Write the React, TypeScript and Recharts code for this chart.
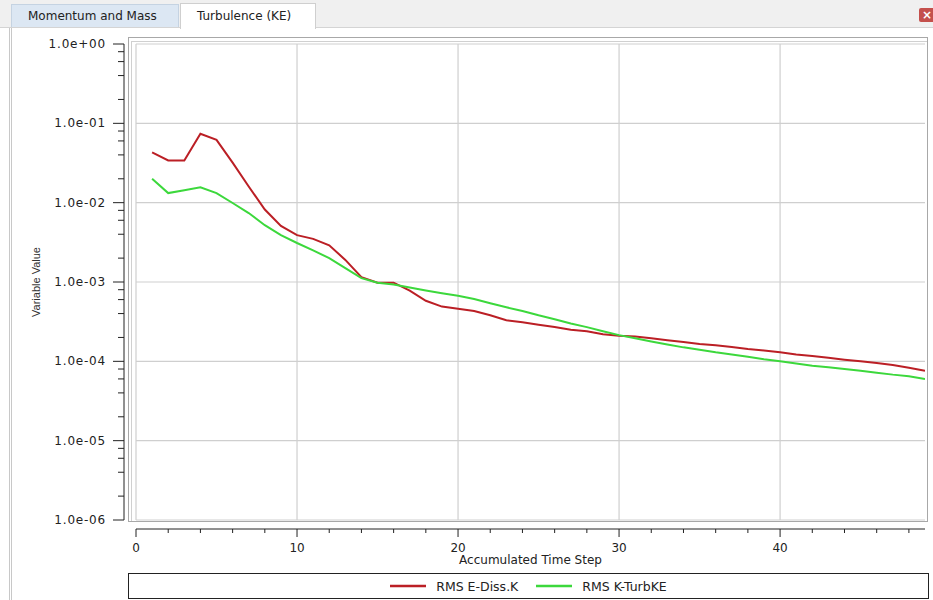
import { Legend, Line, LineChart, ReferenceLine, XAxis, YAxis } from "recharts";

// accumulated time steps
const steps = [
    1, 2, 3, 4, 5, 6, 7, 8, 9, 10, 11, 12, 13, 14, 15, 16, 17, 18, 19, 20, 21, 22, 23, 24, 25,
    26, 27, 28, 29, 30, 31, 32, 33, 34, 35, 36, 37, 38, 39, 40, 41, 42, 43, 44, 45, 46, 47, 48, 49,
];

// RMS E-Diss.K
const eDissK = [
    0.043, 0.034, 0.034, 0.074, 0.062, 0.032, 0.016, 0.0082, 0.0051, 0.0039,
    0.0035, 0.0029, 0.0019, 0.00115, 0.00098, 0.00098, 0.00078, 0.00058, 0.00049, 0.00046,
    0.00043, 0.00038, 0.00033, 0.00031, 0.00029, 0.00027, 0.00025, 0.00024, 0.00022, 0.00021,
    0.000205, 0.000195, 0.000185, 0.000175, 0.000165, 0.00016, 0.000152, 0.000143, 0.000137, 0.00013,
    0.000122, 0.000117, 0.000111, 0.000105, 0.0001, 0.000095, 0.00009, 0.000083, 0.000076,
];

// RMS K-TurbKE
const kTurbKE = [
    0.02, 0.0132, 0.0143, 0.0156, 0.0132, 0.0099, 0.0074, 0.0052, 0.0039, 0.0031,
    0.0025, 0.002, 0.0015, 0.00112, 0.00098, 0.00093, 0.00085, 0.00078, 0.00072, 0.00067,
    0.00061, 0.00054, 0.00048, 0.00043, 0.00038, 0.00034, 0.0003, 0.00027, 0.00024, 0.000214,
    0.000195, 0.000178, 0.000163, 0.00015, 0.00014, 0.00013, 0.000122, 0.000114, 0.000106, 0.0001,
    0.000094, 0.000088, 0.000084, 0.00008, 0.000076, 0.000072, 0.000068, 0.000065, 0.00006,
];

const xTicks = [0, 2, 4, 6, 8, 10, 12, 14, 16, 18, 20, 22, 24, 26, 28, 30, 32, 34, 36, 38, 40, 42, 44, 46, 48];
const xMajor = [0, 10, 20, 30, 40];
const yMajor = [1e-6, 1e-5, 1e-4, 1e-3, 1e-2, 1e-1, 1];
const yMinorMult = [2, 4, 6, 8];

const yTicks = yMajor.flatMap((d, i) =>
    i === yMajor.length - 1 ? [d] : [d, ...yMinorMult.map((m) => m * d)]
);

const data = steps.map((s, i) => ({ step: s, ediss: eDissK[i], turb: kTurbKE[i] }));

const FONT = "'DejaVu Sans', Verdana, sans-serif";

const fmtExp = (v: number) => {
    const e = Math.round(Math.log10(v));
    return `1.0e${e < 0 ? "-" : "+"}${String(Math.abs(e)).padStart(2, "0")}`;
};

const YTick = ({ x, y, payload }: any) => {
    const v = payload.value as number;
    const lg = Math.log10(v);
    const major = Math.abs(lg - Math.round(lg)) < 1e-6;
    const ax = x - 12;
    return (
        <g>
            <line x1={ax} x2={ax - (major ? 11 : 6)} y1={y} y2={y} stroke="#222" />
            {major && (
                <text
                    x={ax - 18}
                    y={y}
                    textAnchor="end"
                    dominantBaseline="central"
                    fontFamily={FONT}
                    fontSize={12}
                    letterSpacing={0.8}
                    fill="#222">
                    {fmtExp(v)}
                </text>
            )}
        </g>
    );
};

const XTick = ({ x, y, payload }: any) => {
    const v = payload.value as number;
    const major = v % 10 === 0;
    const ay = y + 9;
    return (
        <g>
            <line x1={x} x2={x} y1={ay} y2={ay + (major ? 8 : 4)} stroke="#222" />
            {major && (
                <text
                    x={x}
                    y={ay + 19}
                    textAnchor="middle"
                    dominantBaseline="central"
                    fontFamily={FONT}
                    fontSize={12}
                    fill="#222">
                    {v}
                </text>
            )}
        </g>
    );
};

const renderLegend = (props: any) => (
    <div
        style={{
            display: "flex",
            justifyContent: "center",
            alignItems: "center",
            height: "100%",
            gap: 18,
            fontFamily: FONT,
            fontSize: 12.5,
            color: "#222",
        }}>
        {(props.payload || []).map((item: any) => (
            <span key={item.value} style={{ display: "flex", alignItems: "center", gap: 10 }}>
                <svg width={36} height={4}>
                    <line x1={0} x2={36} y1={2} y2={2} stroke={item.color} strokeWidth={2.5} />
                </svg>
                <span>{item.value}</span>
            </span>
        ))}
    </div>
);

export default function App() {
    return (
        <div
            style={{
                position: "absolute",
                left: 0,
                top: 0,
                width: 933,
                height: 600,
                background: "#fff",
                overflow: "hidden",
                fontFamily: FONT,
            }}>
            {/* tab strip */}
            <div
                style={{
                    position: "absolute",
                    left: 0,
                    top: 0,
                    width: 933,
                    height: 27,
                    background: "#f0f0f0",
                    borderBottom: "1px solid #d4d4d4",
                }}
            />
            <div
                style={{
                    position: "absolute",
                    left: 11,
                    top: 4,
                    width: 168,
                    height: 23,
                    background: "#dce7f3",
                    border: "1px solid #c5d3e2",
                    borderBottom: "none",
                    boxSizing: "border-box",
                    fontSize: 12,
                    color: "#222",
                    lineHeight: "23px",
                    paddingLeft: 16,
                }}>
                Momentum and Mass
            </div>
            <div
                style={{
                    position: "absolute",
                    left: 180,
                    top: 3,
                    width: 136,
                    height: 26,
                    background: "#fff",
                    border: "1px solid #cfcfcf",
                    borderBottom: "none",
                    boxSizing: "border-box",
                    fontSize: 12,
                    color: "#222",
                    lineHeight: "24px",
                    paddingLeft: 16,
                }}>
                Turbulence (KE)
            </div>
            <div
                style={{
                    position: "absolute",
                    left: 919,
                    top: 8,
                    width: 16,
                    height: 14,
                    background: "#c4504c",
                    borderRadius: 2,
                    color: "#fff",
                    fontSize: 12,
                    fontWeight: "bold",
                    lineHeight: "14px",
                    paddingLeft: 3,
                    boxSizing: "border-box",
                }}>
                ×
            </div>
            {/* window left edge */}
            <div
                style={{
                    position: "absolute",
                    left: 9,
                    top: 28,
                    width: 1,
                    height: 572,
                    borderLeft: "1px solid #c8c8c8",
                    borderRight: "1px solid #c8c8c8",
                }}
            />
            {/* plot frame */}
            <div
                style={{
                    position: "absolute",
                    left: 128,
                    top: 37,
                    width: 800,
                    height: 485,
                    border: "1px solid #a8a8a8",
                    boxSizing: "border-box",
                }}>
                <div
                    style={{
                        position: "absolute",
                        left: 2,
                        top: 3,
                        right: 0,
                        bottom: 0,
                        borderLeft: "1px solid #d0d0d0",
                        borderTop: "1px solid #d0d0d0",
                    }}
                />
            </div>
            <div style={{ position: "absolute", left: 0, top: 0 }}>
                <LineChart
                    width={933}
                    height={600}
                    data={data}
                    margin={{ top: 44, right: 8, left: 36, bottom: 50 }}>
                    {xMajor.map((v) => (
                        <ReferenceLine key={`x${v}`} x={v} stroke="#cfcfcf" strokeWidth={1.2} />
                    ))}
                    {yMajor.map((v) => (
                        <ReferenceLine key={`y${v}`} y={v} stroke="#cfcfcf" strokeWidth={1.2} />
                    ))}
                    <XAxis
                        dataKey="step"
                        type="number"
                        domain={[0, 49]}
                        ticks={xTicks}
                        interval={0}
                        height={30}
                        tickSize={0}
                        tickMargin={0}
                        tickLine={false}
                        tick={<XTick />}
                        axisLine={{ stroke: "#222", transform: "translate(0, 9)" }}
                        allowDataOverflow
                        label={{
                            value: "Accumulated Time Step",
                            position: "bottom",
                            offset: 5,
                            style: { fontFamily: FONT, fontSize: 12, fill: "#222" },
                        }}
                    />
                    <YAxis
                        scale="log"
                        type="number"
                        domain={[1e-6, 1]}
                        ticks={yTicks}
                        interval={0}
                        width={100}
                        tickSize={0}
                        tickMargin={0}
                        tickLine={false}
                        tick={<YTick />}
                        axisLine={{ stroke: "#222", transform: "translate(-12, 0)" }}
                        allowDataOverflow
                        label={{
                            value: "Variable Value",
                            angle: -90,
                            position: "insideLeft",
                            offset: 0,
                            style: {
                                fontFamily: "'Liberation Sans', Arial, sans-serif",
                                fontSize: 11,
                                fill: "#333",
                                textAnchor: "middle",
                            },
                        }}
                    />
                    <Line
                        dataKey="ediss"
                        name="RMS E-Diss.K"
                        stroke="#bb1f25"
                        strokeWidth={2}
                        dot={false}
                        isAnimationActive={false}
                    />
                    <Line
                        dataKey="turb"
                        name="RMS K-TurbKE"
                        stroke="#3cd83c"
                        strokeWidth={2}
                        dot={false}
                        isAnimationActive={false}
                    />
                    <Legend
                        layout="horizontal"
                        align="center"
                        verticalAlign="middle"
                        content={renderLegend}
                        wrapperStyle={{
                            left: 128,
                            top: 573,
                            width: 801,
                            height: 26,
                            border: "1px solid #222",
                            boxSizing: "border-box",
                            background: "#fff",
                        }}
                    />
                </LineChart>
            </div>
        </div>
    );
}
